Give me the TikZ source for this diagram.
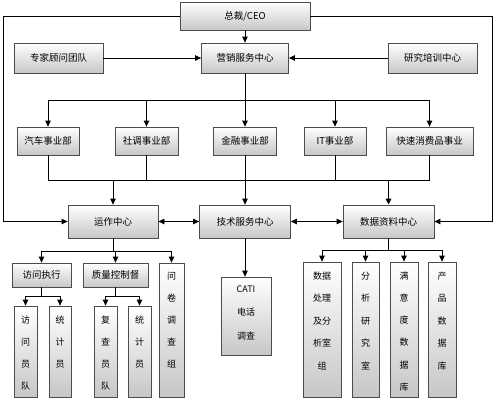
\documentclass[tikz,border=0pt]{standalone}
\usepackage{fontspec}
\setmainfont{Noto Sans CJK SC}
\usetikzlibrary{arrows.meta}
\tikzset{
  box/.style={draw=black!70, line width=0.8pt, top color=white, bottom color=black!22, inner sep=0pt, font=\fontsize{9.5}{11}\selectfont},
  tbox/.style={draw=black!70, line width=0.8pt, top color=white, bottom color=black!22, inner sep=0pt},
  ttxt/.style={anchor=north, inner sep=0pt, align=center, font=\fontsize{9}{22}\selectfont},
  ln/.style={draw=black, line width=0.8pt},
  arr/.style={ln, -{Triangle[length=6pt,width=5.5pt]}},
  darr/.style={ln, {Triangle[length=6pt,width=5.5pt]}-{Triangle[length=6pt,width=5.5pt]}},
}
\begin{document}
\begin{tikzpicture}[x=1pt,y=-1pt]
\useasboundingbox (0,0) rectangle (500,400);
% top
\node[box, minimum width=130pt, minimum height=28pt] (ceo) at (245,16) {总裁/CEO};
\node[box, minimum width=87pt, minimum height=30pt] (yx) at (245,58) {营销服务中心};
\node[box, minimum width=89pt, minimum height=30pt] (zj) at (58.5,58) {专家顾问团队};
\node[box, minimum width=89pt, minimum height=30pt] (yj) at (432.5,58) {研究培训中心};
% row 2
\node[box, minimum width=62pt, minimum height=28pt] (qc) at (48,141) {汽车事业部};
\node[box, minimum width=63pt, minimum height=28pt] (sd) at (146.5,141) {社调事业部};
\node[box, minimum width=63pt, minimum height=28pt] (jr) at (245,141) {金融事业部};
\node[box, minimum width=62pt, minimum height=28pt] (it) at (335,141) {IT事业部};
\node[box, minimum width=87pt, minimum height=28pt] (kx) at (429.5,141) {快速消费品事业};
% row 3
\node[box, minimum width=90pt, minimum height=33pt] (yz) at (113,221.5) {运作中心};
\node[box, minimum width=91pt, minimum height=33pt] (js) at (245,221.5) {技术服务中心};
\node[box, minimum width=91pt, minimum height=33pt] (sj) at (388.5,221.5) {数据资料中心};
% row 4
\node[box, minimum width=59pt, minimum height=24pt] (fwzx) at (41.5,275) {访问执行};
\node[box, minimum width=65pt, minimum height=24pt] (zlkz) at (115.5,275) {质量控制督};
\node[tbox, minimum width=25pt, minimum height=134pt] (wj) at (171.5,330) {};
\node[ttxt] (wjt) at ([yshift=-9pt]wj.north) {问\\卷\\调\\查\\组};
\node[tbox, minimum width=50pt, minimum height=78pt] (cati) at (246,316) {};
\node[ttxt, font=\fontsize{9}{23.5}\selectfont] (catit) at ([yshift=-8.5pt]cati.north) {CATI\\电话\\调查};
\node[tbox, minimum width=38pt, minimum height=135pt] (sjcl) at (322,329.5) {};
\node[ttxt, font=\fontsize{9}{22.5}\selectfont] (sjclt) at ([yshift=-10pt]sjcl.north) {数据\\处理\\及分\\析室\\组};
\node[tbox, minimum width=27pt, minimum height=135pt] (fx) at (365.5,329.5) {};
\node[ttxt, font=\fontsize{9}{22.5}\selectfont] (fxt) at ([yshift=-10pt]fx.north) {分\\析\\研\\究\\室};
\node[tbox, minimum width=28pt, minimum height=135pt] (my) at (404,329.5) {};
\node[ttxt, font=\fontsize{9}{22.2}\selectfont] (myt) at ([yshift=-10pt]my.north) {满\\意\\度\\数\\据\\库};
\node[tbox, minimum width=28pt, minimum height=135pt] (cp) at (442,329.5) {};
\node[ttxt, font=\fontsize{9}{22.5}\selectfont] (cpt) at ([yshift=-10pt]cp.north) {产\\品\\数\\据\\库};
% row 5
\node[tbox, minimum width=23pt, minimum height=91pt] (fwy) at (25.5,351.5) {};
\node[ttxt] (fwyt) at ([yshift=-10pt]fwy.north) {访\\问\\员\\队};
\node[tbox, minimum width=22pt, minimum height=91pt] (tj1) at (60,351.5) {};
\node[ttxt] (tj1t) at ([yshift=-10pt]tj1.north) {统\\计\\员};
\node[tbox, minimum width=23pt, minimum height=91pt] (fc) at (105.5,351.5) {};
\node[ttxt] (fct) at ([yshift=-10pt]fc.north) {复\\查\\员\\队};
\node[tbox, minimum width=23pt, minimum height=91pt] (tj2) at (139.5,351.5) {};
\node[ttxt] (tj2t) at ([yshift=-10pt]tj2.north) {统\\计\\员};
% coordinates
\coordinate (bus1) at (0,100);
\coordinate (bus2) at (0,180);
\coordinate (lft) at (3,0);
\coordinate (rgt) at (492,0);
\coordinate (b3) at (0,251);
\coordinate (b4) at (0,296);
% connectors top
\draw[arr] (ceo.south) -- (yx.north);
\draw[arr] (zj.east) -- (yx.west);
\draw[arr] (yj.west) -- (yx.east);
\draw[ln] (yx.south) -- (yx.south |- bus1);
\draw[ln] (qc.north |- bus1) -- (kx.north |- bus1);
\foreach \n in {qc,sd,jr,it,kx}{\draw[arr] (\n.north |- bus1) -- (\n.north);}
\foreach \n in {qc,sd,jr,it,kx}{\draw[ln] (\n.south) -- (\n.south |- bus2);}
\draw[ln] (qc.south |- bus2) -- (kx.south |- bus2);
\draw[arr] (yz.north |- bus2) -- (yz.north);
\draw[arr] (js.north |- bus2) -- (js.north);
\draw[arr, line width=1.6pt] (sj.north |- bus2) -- (sj.north);
\draw[arr] (ceo.west) -- (ceo.west -| lft) |- (yz.west);
\draw[arr] (ceo.east) -- (ceo.east -| rgt) |- (sj.east);
\draw[darr] (yz.east) -- (js.west);
\draw[darr] (js.east) -- (sj.west);
% under yz
\draw[ln] (yz.south) -- (yz.south |- b3);
\draw[ln] (fwzx.north |- b3) -- (wj.north |- b3);
\foreach \n in {fwzx,zlkz,wj}{\draw[arr] (\n.north |- b3) -- (\n.north);}
\draw[ln] (fwzx.south) -- (fwzx.south |- b4);
\draw[ln] (fwy.north |- b4) -- (tj1.north |- b4);
\foreach \n in {fwy,tj1}{\draw[arr] (\n.north |- b4) -- (\n.north);}
\draw[ln] (zlkz.south) -- (zlkz.south |- b4);
\draw[ln] (fc.north |- b4) -- (tj2.north |- b4);
\foreach \n in {fc,tj2}{\draw[arr] (\n.north |- b4) -- (\n.north);}
% under js
\draw[arr] (js.south) -- (js.south |- cati.north);
% under sj
\coordinate (b5) at (0,250);
\draw[ln] (sj.south) -- (sj.south |- b5);
\draw[ln] (sjcl.north |- b5) -- (cp.north |- b5);
\foreach \n in {sjcl,fx,my,cp}{\draw[arr] (\n.north |- b5) -- (\n.north);}
\end{tikzpicture}
\end{document}
